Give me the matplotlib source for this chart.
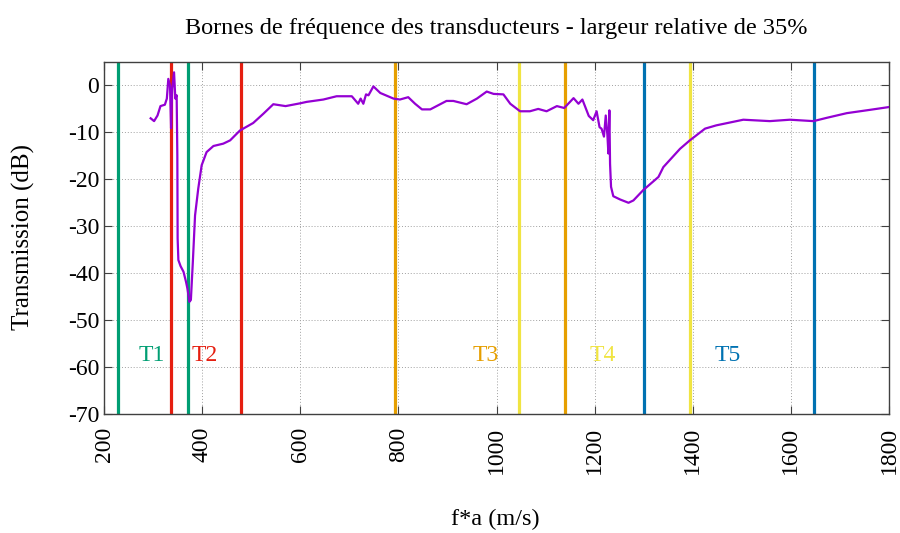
import matplotlib.pyplot as plt
from matplotlib.ticker import MultipleLocator

plt.rcParams['font.family'] = ['Liberation Serif', 'DejaVu Serif']
plt.rcParams['axes.unicode_minus'] = False

# Transmission curve (f*a in m/s, transmission in dB)
fa = [295, 302, 309, 315, 324, 328, 331, 334.5, 336.6, 339,
      342.7, 345.3, 348, 349.4, 350, 351.5, 356, 362, 367, 370,
      374, 377, 381, 385.5, 392, 399, 409, 423, 443, 457,
      477, 504, 525, 545, 570, 600, 613, 647, 674, 705,
      718, 723, 728.5, 734, 739, 749, 763, 790, 803, 820,
      834, 848, 865, 898, 912, 939, 960, 980, 994, 1014,
      1028, 1048, 1068, 1085, 1102, 1123, 1138, 1157, 1167, 1175,
      1188, 1197, 1204, 1210, 1214, 1219, 1222.6, 1226, 1228, 1230,
      1231.4, 1233.4, 1238, 1252, 1269, 1279, 1299, 1330, 1340, 1374,
      1394, 1425, 1448, 1503, 1557, 1598, 1646, 1673, 1714, 1761,
      1800]
trans = [-7.0, -7.6, -6.4, -4.4, -4.1, -2.8, 1.4, 0.0, -9.1, -0.7,
         2.8, -2.8, -2.1, -14.9, -32.6, -37.2, -38.5, -39.7, -41.8, -43.3,
         -46.1, -45.7, -37.6, -27.7, -22.0, -17.0, -14.2, -12.9, -12.4, -11.7,
         -9.6, -8.0, -6.0, -4.0, -4.4, -3.8, -3.5, -3.0, -2.3, -2.3,
         -3.9, -2.8, -3.9, -1.9, -2.1, -0.2, -1.6, -2.8, -3.0, -2.5,
         -3.9, -5.1, -5.1, -3.3, -3.3, -4.0, -2.8, -1.3, -1.8, -1.9,
         -3.9, -5.5, -5.5, -5.0, -5.5, -4.4, -4.8, -2.7, -3.9, -3.0,
         -6.5, -7.4, -5.5, -8.9, -9.2, -10.9, -6.4, -10.6, -14.5, -5.3,
         -16.7, -21.6, -23.6, -24.3, -25.0, -24.5, -22.3, -19.5, -17.4, -13.5,
         -11.7, -9.2, -8.5, -7.3, -7.6, -7.3, -7.6, -6.9, -5.9, -5.2,
         -4.6]

# Transducer frequency bounds
transducers = ['T1', 'T2', 'T3', 'T4', 'T5']
f_low = [228.5, 336.6, 793, 1046, 1300]
f_high = [371, 479, 1140, 1394, 1647]
label_x = [298, 406, 977, 1217, 1472]
label_y = -57.5
colors = ['#009e73', '#e51e10', '#e69f00', '#f0e442', '#0072b2']

fig = plt.figure(figsize=(9, 5.33), dpi=100)
ax = fig.add_axes([0.1156, 0.2233, 0.8722, 0.6604])

for name, lo, hi, x, c in zip(transducers, f_low, f_high, label_x, colors):
    ax.axvline(lo, color=c, lw=2.3, zorder=2)
    ax.axvline(hi, color=c, lw=2.3, zorder=2)
    ax.text(x, label_y, name, color=c, fontsize=17, ha='center', va='center')

ax.plot(fa, trans, color='#9400d3', lw=1.6, zorder=3)

ax.set_xlim(200, 1800)
ax.set_ylim(-70, 5)
ax.xaxis.set_major_locator(MultipleLocator(200))
ax.set_yticks(range(-70, 1, 10))
ax.grid(True, color='#a0a0a0', linestyle=(0, (1, 2)), lw=0.7)
ax.set_axisbelow(True)

for s in ax.spines.values():
    s.set_color('#404040')
    s.set_linewidth(1.0)
ax.tick_params(direction='in', top=True, right=True, length=6,
               color='#404040', labelsize=17)
plt.setp(ax.get_xticklabels(), rotation=90)
ax.tick_params(axis='x', pad=9)

ax.set_title('Bornes de fréquence des transducteurs - largeur relative de 35%',
             fontsize=17.5, pad=20)
fig.text(495 / 900, 1 - 519 / 533, 'f*a (m/s)', fontsize=17.5,
         ha='center', va='center')
fig.text(23 / 900, 1 - 237 / 533, 'Transmission (dB)', fontsize=18,
         ha='center', va='center', rotation=90)

fig.savefig('out.png', dpi=100)
